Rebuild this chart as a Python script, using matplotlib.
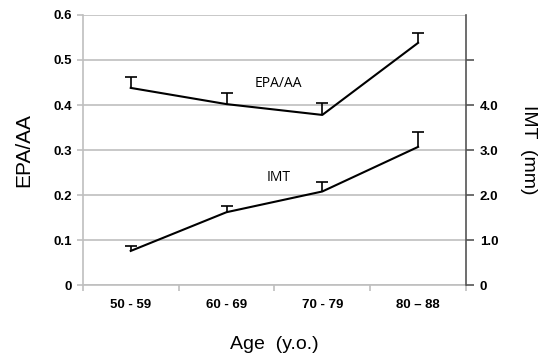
import matplotlib
import matplotlib.pyplot as plt

matplotlib.use('Agg')

# Data
age_groups = ['50 - 59', '60 - 69', '70 - 79', '80 – 88']
epa_aa = [0.438, 0.402, 0.378, 0.538]
epa_aa_err = [0.024, 0.025, 0.026, 0.022]
imt = [0.76, 1.62, 2.08, 3.07]
imt_err = [0.11, 0.14, 0.21, 0.33]

left_ticks = [0, 0.1, 0.2, 0.3, 0.4, 0.5, 0.6]
left_labels = ['0', '0.1', '0.2', '0.3', '0.4', '0.5', '0.6']
right_ticks = [0, 1, 2, 3, 4, 5]
right_labels = ['0', '1.0', '2.0', '3.0', '4.0', '']

grid_col = '#bfbfbf'
tick_font = {'family': 'Liberation Sans', 'weight': 'bold', 'size': 9.5}


def upper_errorbar(axis, xs, ys, err):
    # only the upper half of the error bar, with a cap on top
    line, caps, bars = axis.errorbar(xs, ys, yerr=[[0] * len(ys), err], color='black', lw=1.5,
                                     elinewidth=1.2, capsize=4.5, capthick=1.2, zorder=3)
    caps[0].set_visible(False)


fig = plt.figure(figsize=(5.45, 3.56), dpi=100)
ax = fig.add_axes([0.152, 0.199, 0.703, 0.759])
x = list(range(len(age_groups)))

# EPA/AA on left axis
upper_errorbar(ax, x, epa_aa, epa_aa_err)
ax.set_xlim(-0.5, 3.5)
ax.set_ylim(0, 0.6)
ax.set_yticks(left_ticks)
ax.set_yticklabels(left_labels, fontdict=tick_font)
ax.yaxis.grid(True, color=grid_col, lw=1.2)
ax.set_axisbelow(True)
ax.tick_params(axis='y', color=grid_col, length=4, width=1.2, pad=4)

ax.set_xticks([-0.5, 0.5, 1.5, 2.5, 3.5])
ax.set_xticklabels([])
ax.set_xticks(x, minor=True)
ax.set_xticklabels(age_groups, minor=True, fontdict=tick_font)
ax.tick_params(axis='x', which='major', color=grid_col, length=4, width=1.2)
ax.tick_params(axis='x', which='minor', length=0, pad=10)

for side in ['top', 'right']:
    ax.spines[side].set_visible(False)
for side in ['left', 'bottom']:
    ax.spines[side].set_color(grid_col)
    ax.spines[side].set_linewidth(1.2)

ax.set_ylabel('EPA/AA', family='Liberation Sans', fontsize=15, labelpad=14)
ax.set_xlabel('Age  (y.o.)', family='Liberation Sans', fontsize=14, labelpad=18)

# IMT on right axis
ax2 = ax.twinx()
upper_errorbar(ax2, x, imt, imt_err)
ax2.set_ylim(0, 6)
ax2.set_yticks(right_ticks)
ax2.set_yticklabels(right_labels, fontdict=tick_font)
ax2.tick_params(axis='y', color='#555555', length=6, width=1.2, pad=4)
for side in ['top', 'left', 'bottom']:
    ax2.spines[side].set_visible(False)
ax2.spines['right'].set_color('#555555')
ax2.spines['right'].set_linewidth(1.2)
ax2.set_ylabel('IMT  (mm)', family='Liberation Sans', fontsize=14,
               rotation=270, labelpad=28)

ax.text(1.54, 0.447, 'EPA/AA', family='Open Sans', fontsize=10, ha='center', va='center')
ax.text(1.54, 0.24, 'IMT', family='Open Sans', fontsize=10, ha='center', va='center')

plt.savefig('out.png', dpi=100)
plt.close()
